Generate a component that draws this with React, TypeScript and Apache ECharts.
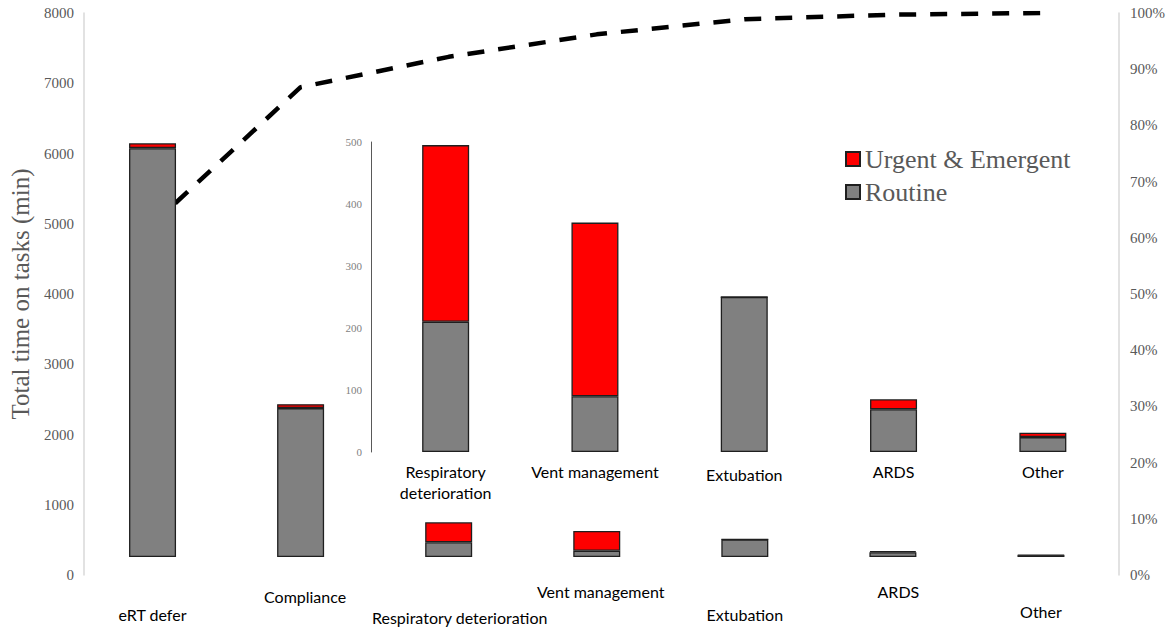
import React, { useEffect, useRef } from 'react';
import * as echarts from 'echarts';

const categories = ['eRT defer', 'Compliance', 'Respiratory deterioration', 'Vent management', 'Extubation', 'ARDS', 'Other'];
const routine = [5820, 2120, 210, 90, 250, 69, 24];
const urgent = [70, 55, 285, 280, 0, 16, 7];
const cumulativePct = [62.4, 86.8, 92.2, 96.2, 98.9, 99.7, 100];
const insetCategories = categories.slice(2);
const insetRoutine = routine.slice(2);
const insetUrgent = urgent.slice(2);
const leftAxisMax = 8000;
const leftAxisStep = 1000;
const rightAxisMax = 100;
const rightAxisStep = 10;
const insetAxisMax = 500;
const insetAxisStep = 100;

const ROUTINE = 'Routine';
const URGENT = 'Urgent & Emergent';

// per-label style offsets for the staggered main-axis labels: [top, left]
const labelPads: number[][] = [
  [59, 0], [23, 9], [65, 22], [13, 8], [59, 0], [13, 11], [53, 0],
];

const sansFont = 'Lato';
const serifFont = 'Liberation Serif';

function buildOption(): any {
  const rich: any = {};
  labelPads.forEach((p, i) => {
    rich['l' + i] = {
      fontFamily: sansFont, fontSize: 16, color: '#000', lineHeight: 20,
      padding: [p[0], 0, 0, p[1]],
    };
  });
  const insetRich: any = {
    n: { fontFamily: sansFont, fontSize: 16, color: '#000', lineHeight: 21 },
    e: { fontFamily: sansFont, fontSize: 16, color: '#000', lineHeight: 21, padding: [6, 0, 0, 0] },
  };
  const barBorder = { borderColor: '#1f1f1f', borderWidth: 1.3 };
  return {
    animation: false,
    backgroundColor: '#fff',
    grid: [
      { left: 78.5, right: 54, top: 13, bottom: 53 },
      { left: 84, right: 50, top: 13, bottom: 53 },
      { left: 371, right: 51.5, top: 142, bottom: 176 },
    ],
    legend: {
      orient: 'vertical', left: 845, top: 146, padding: 0,
      itemWidth: 14, itemHeight: 14, itemGap: 7, icon: 'rect',
      data: [URGENT, ROUTINE],
      textStyle: { fontFamily: serifFont, fontSize: 26, color: '#595959' },
    },
    xAxis: [
      {
        gridIndex: 0, type: 'category', data: categories,
        axisLine: { show: false }, axisTick: { show: false },
        axisLabel: {
          interval: 0, margin: 0,
          formatter: (v: string, i: number) => `{l${i}|${v}}`,
          rich,
        },
      },
      { gridIndex: 1, type: 'category', data: categories, show: false },
      {
        gridIndex: 2, type: 'category', data: insetCategories,
        axisLine: { show: false }, axisTick: { show: false },
        axisLabel: {
          interval: 0, margin: 9, fontFamily: sansFont, fontSize: 16, lineHeight: 21, color: '#000',
          formatter: (v: string, i: number) =>
            i === 0 ? v.split(' ').map((s) => `{n|${s}}`).join('\n') : i === 2 ? `{e|${v}}` : `{n|${v}}`,
          rich: insetRich,
        },
      },
    ],
    yAxis: [
      { gridIndex: 0, type: 'value', min: -256, max: leftAxisMax - 256, show: false },
      { gridIndex: 0, type: 'value', min: 0, max: rightAxisMax, show: false },
      {
        gridIndex: 1, type: 'value', position: 'left', min: 0, max: leftAxisMax, interval: leftAxisStep,
        axisLine: { show: true, lineStyle: { color: '#d9d9d9', width: 1.5 } },
        axisTick: { show: false }, splitLine: { show: false },
        axisLabel: {
          margin: 10, fontFamily: serifFont, fontSize: 15, color: '#595959',
          formatter: (v: number) => String(v),
        },
        name: 'Total time on tasks (min)', nameLocation: 'middle', nameGap: 50,
        nameTextStyle: { fontFamily: serifFont, fontSize: 25, color: '#595959' },
      },
      {
        gridIndex: 1, type: 'value', position: 'right', min: 0, max: rightAxisMax, interval: rightAxisStep,
        axisLine: { show: true, lineStyle: { color: '#d9d9d9', width: 1.5 } },
        axisTick: { show: false }, splitLine: { show: false },
        axisLabel: { margin: 11, fontFamily: serifFont, fontSize: 15, color: '#595959', formatter: '{value}%' },
      },
      {
        gridIndex: 2, type: 'value', min: 0, max: insetAxisMax, interval: insetAxisStep,
        axisLine: { show: true, lineStyle: { color: '#595959', width: 1 } },
        axisTick: { show: false }, splitLine: { show: false },
        axisLabel: { margin: 9, fontFamily: serifFont, fontSize: 11, color: '#7f7f7f' },
      },
    ],
    series: [
      {
        name: 'Cumulative', type: 'line', xAxisIndex: 0, yAxisIndex: 1, data: cumulativePct,
        symbol: 'none', z: 1,
        lineStyle: { color: '#000', width: 4.5, type: [17, 14] },
      },
      {
        name: ROUTINE, type: 'bar', xAxisIndex: 0, yAxisIndex: 0, stack: 'main', data: routine,
        barWidth: 47, z: 3, itemStyle: { color: '#808080', ...barBorder },
      },
      {
        name: URGENT, type: 'bar', xAxisIndex: 0, yAxisIndex: 0, stack: 'main', data: urgent,
        barWidth: 47, z: 3, itemStyle: { color: '#ff0000', ...barBorder },
      },
      {
        name: ROUTINE, type: 'bar', xAxisIndex: 2, yAxisIndex: 4, stack: 'inset', data: insetRoutine,
        barWidth: 47, z: 3, itemStyle: { color: '#808080', ...barBorder },
      },
      {
        name: URGENT, type: 'bar', xAxisIndex: 2, yAxisIndex: 4, stack: 'inset', data: insetUrgent,
        barWidth: 47, z: 3, itemStyle: { color: '#ff0000', ...barBorder },
      },
    ],
  };
}

export default function App() {
  const ref = useRef<HTMLDivElement>(null);
  useEffect(() => {
    if (!ref.current) return;
    const chart = echarts.init(ref.current, null, { renderer: 'svg' });
    chart.setOption(buildOption());
    return () => chart.dispose();
  }, []);
  return (
    <div
      ref={ref}
      style={{ position: 'fixed', left: 0, top: 0, width: 1169, height: 628, background: '#fff' }}
    />
  );
}
